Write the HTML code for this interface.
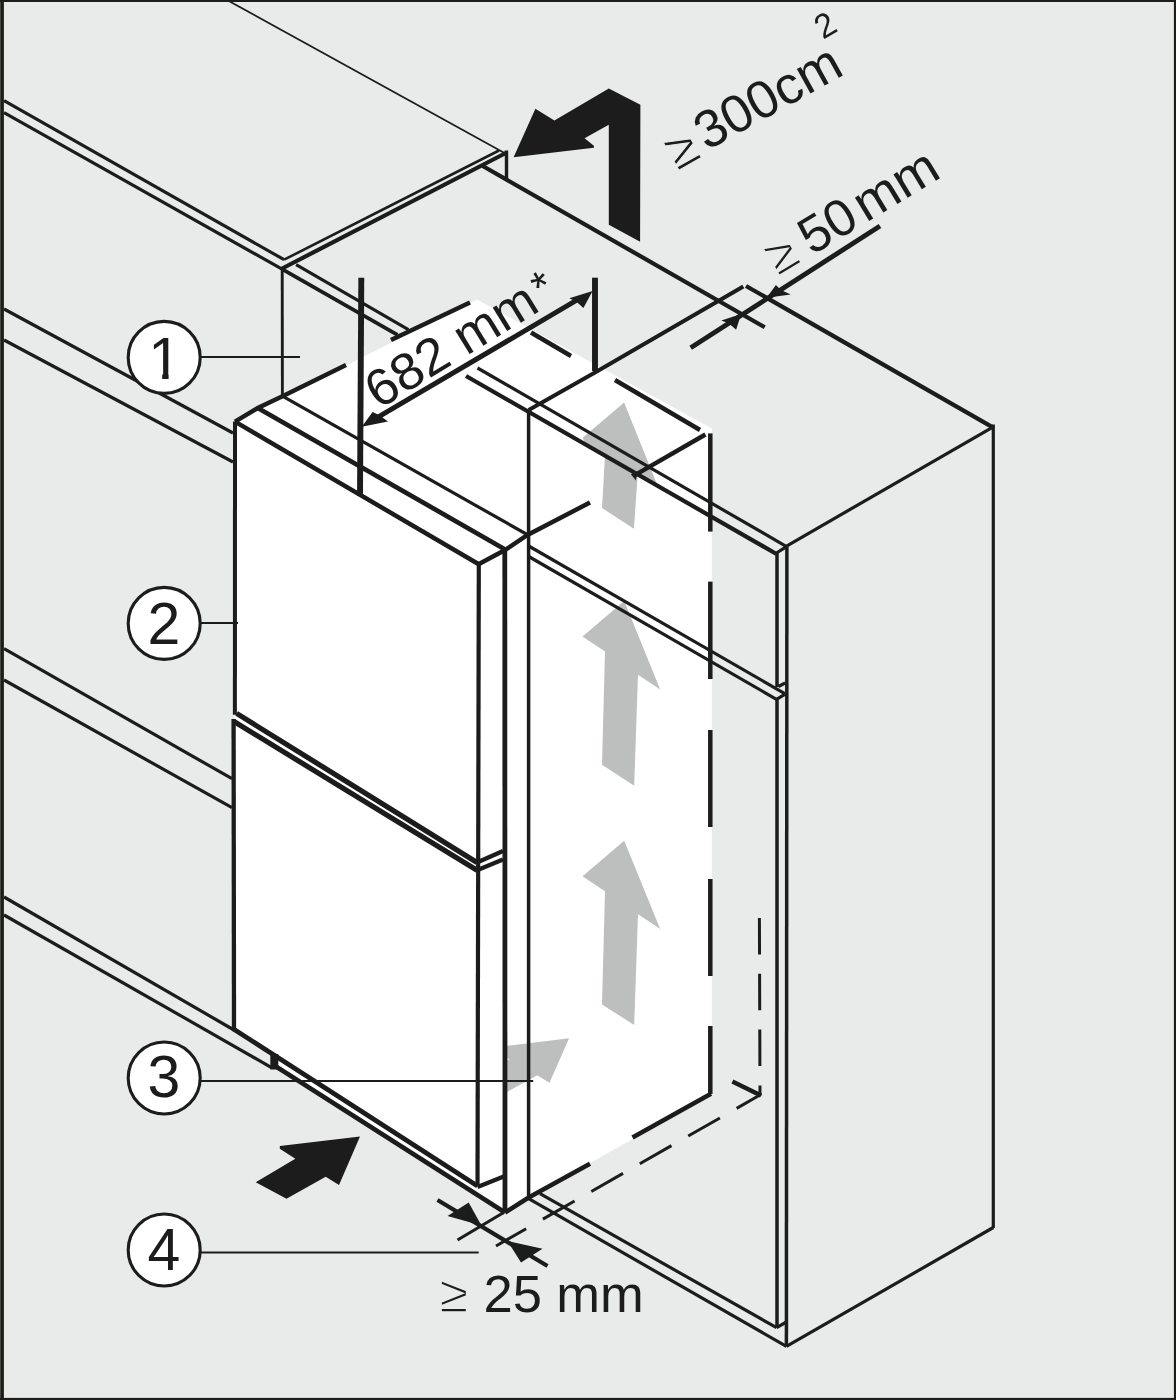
<!DOCTYPE html>
<html lang="en">
<head>
<meta charset="utf-8">
<title>Installation diagram</title>
<style>
html,body{margin:0;padding:0;background:#e9ebea;}
body{width:1176px;height:1400px;overflow:hidden;}
svg{display:block;}
text{font-family:"Liberation Sans",Arial,Helvetica,sans-serif;fill:#1d1d1b;}
.l1{stroke:#1d1d1b;stroke-width:1.8;fill:none;}
.l2{stroke:#1d1d1b;stroke-width:3.2;fill:none;}
.l25{stroke:#1d1d1b;stroke-width:3.8;fill:none;}
.l3{stroke:#1d1d1b;stroke-width:4.5;fill:none;}
.l4{stroke:#1d1d1b;stroke-width:4.8;fill:none;}
.l5{stroke:#1d1d1b;stroke-width:5.9;fill:none;}
.blk{fill:#1d1d1b;stroke:none;}
.gry{fill:#bdbfbe;stroke:none;}
.wht{fill:#ffffff;stroke:none;}
</style>
</head>
<body>
<svg width="1176" height="1400" viewBox="0 0 1176 1400">
<defs><filter id="soft" x="0" y="0" width="1176" height="1400" filterUnits="userSpaceOnUse"><feGaussianBlur stdDeviation="0.55"/></filter></defs>
<g filter="url(#soft)">
<rect x="-5" y="-5" width="1186" height="1410" fill="#e9ebea"/>

<!-- WHITE-REGIONS -->
<g id="white">
<polygon class="wht" points="235,421.6 476.9,299.6 711.8,428.5 711.8,1094.5 528.7,1197.5 505,1212.5 278,1068 278,1057 233.5,1029"/>
</g>

<!-- GRAY-ARROWS -->
<g id="grayarrows">
<polygon class="gry" points="624.1,402.6 582.7,437.7 585.5,444.2 605,455.5 602,507.9 633.9,528.8 637.6,476.5 658.5,488"/>
<polygon class="gry" points="624.2,601.1 582.5,636.5 605,651.5 602,764.7 634.2,785.7 638,674.7 660.2,689.4"/>
<polygon class="gry" points="624.2,840.8 582.5,876.2 605,891.2 602,1004.4 634.2,1025 638,914.3 660.2,929"/>
<polygon class="gry" points="569.1,1038.2 505,1046 505,1057.6 510,1059.2 505,1060.5 505,1093 537.2,1075.2 549.5,1082.8"/>
</g>
<!-- door side + strip cover (white over small gray arrow) -->
<polygon class="wht" points="479,564 505,550 505,1211 477,1186"/>

<!-- LINES -->
<g id="lines">
<!-- upper-left wall units -->
<line class="l1" x1="227" y1="0" x2="504.5" y2="153"/>
<line class="l2" x1="4" y1="100.6" x2="284.1" y2="259.7"/>
<line class="l2" x1="4" y1="112.7" x2="282.1" y2="269.1"/>
<line class="l2" style="stroke-width:2.6" x1="284.1" y1="259.7" x2="499" y2="150.5"/>
<line class="l25" x1="282.1" y1="269.1" x2="397.5" y2="334.8"/>
<line class="l2" x1="296.1" y1="264.7" x2="408.4" y2="329.7"/>
<line class="l3" style="stroke-width:4.2" x1="282.1" y1="268.5" x2="506.8" y2="152.5"/>
<line class="l2" style="stroke-width:3.4" x1="506.5" y1="150.5" x2="506.5" y2="178.4"/>
<line class="l2" style="stroke-width:2.9" x1="282.2" y1="269" x2="282.4" y2="397"/>
<line class="l2" x1="4" y1="309" x2="233" y2="433"/>
<line class="l2" x1="4" y1="340" x2="233" y2="462"/>
<line class="l2" x1="4" y1="648.7" x2="232" y2="778.7"/>
<line class="l2" x1="4" y1="680" x2="232" y2="807.7"/>
<line class="l2" x1="4" y1="897" x2="234" y2="1030"/>
<line class="l2" x1="4" y1="915" x2="272" y2="1067.8"/>
<!-- tall unit top/back edges -->
<line class="l3" style="stroke-width:4.2" x1="482.7" y1="166" x2="764.7" y2="327.2"/>
<polyline class="l3" style="stroke-width:4" points="528.7,410 595,372.5 743.3,286.4"/>
<line class="l3" style="stroke-width:4.2" x1="746" y1="286" x2="993.3" y2="427.6"/>
<line class="l2" x1="993.3" y1="424.4" x2="993.3" y2="1228"/>
<line class="l2" x1="993.3" y1="1227.5" x2="786.4" y2="1346.4"/>
<line class="l2" x1="786.1" y1="546.3" x2="992" y2="427.6"/>
<line class="l25" style="stroke-width:3.5" x1="786.9" y1="546.3" x2="786.4" y2="1346.4"/>
<line class="l25" style="stroke-width:3.5" x1="777" y1="553" x2="777" y2="687"/>
<line class="l25" style="stroke-width:3.5" x1="777" y1="699.3" x2="777" y2="1327.7"/>
<line class="l3" style="stroke-width:4.2" x1="466" y1="376" x2="776.5" y2="554"/>
<line class="l2" x1="477.5" y1="368" x2="786.1" y2="546.3"/>
<line class="l2" x1="776.5" y1="553" x2="786.1" y2="546.8"/>
<line class="l3" x1="634" y1="475.6" x2="705.4" y2="434.5"/>
<polygon class="blk" points="630.8,474.2 637,472.2 636,480.5"/>
<line class="l2" x1="528.7" y1="546" x2="784.8" y2="693.6"/>
<line class="l2" x1="528.7" y1="556.5" x2="776.5" y2="699.3"/>
<line class="l2" x1="776.5" y1="699.3" x2="785.2" y2="694.2"/>
<line class="l2" x1="778.4" y1="686.5" x2="785.2" y2="683"/>
<line class="l2" x1="540" y1="1193.7" x2="776.6" y2="1327.7"/>
<line class="l2" x1="528.7" y1="1198.7" x2="786.4" y2="1346.4"/>
<line class="l2" x1="776.6" y1="1327.7" x2="786.4" y2="1322"/>
<!-- door -->
<line class="l3" style="stroke-width:4" x1="235" y1="421.6" x2="234.9" y2="714.7"/>
<line class="l3" style="stroke-width:4.3" x1="233.6" y1="719" x2="234" y2="1029"/>
<line class="l3" x1="235" y1="421.6" x2="478.8" y2="564.3"/>
<line class="l3" style="stroke-width:4.7" x1="257.8" y1="408" x2="504.7" y2="549.2"/>
<polyline class="l3" points="235,421.6 257.8,408 282.5,396.2 346,365"/>
<line class="l2" x1="282.5" y1="396.2" x2="528" y2="535"/>
<line class="l3" style="stroke-width:4.2" x1="478.8" y1="564" x2="477.5" y2="1186"/>
<line class="l4" x1="504.8" y1="549" x2="505" y2="1212"/>
<line class="l3" style="stroke-width:5.2" x1="236.6" y1="713.4" x2="477" y2="862.5"/>
<line class="l3" style="stroke-width:5.2" x1="234" y1="721.5" x2="477" y2="870.2"/>
<line class="l3" style="stroke-width:4.2" x1="477" y1="862.5" x2="503" y2="851"/>
<line class="l3" style="stroke-width:4.2" x1="477" y1="870.2" x2="503" y2="859.5"/>
<line class="l25" style="stroke-width:3.5" x1="528.6" y1="410" x2="528.6" y2="1197.5"/>
<polyline class="l3" points="479,564 505,550 527.5,535 590,502.5"/>
<line class="l3" style="stroke-width:4.8" x1="233.5" y1="1029" x2="477.5" y2="1186"/>
<line class="l3" style="stroke-width:4.2" x1="477.5" y1="1187" x2="503.7" y2="1176.5"/>
<line class="l3" x1="276" y1="1066.5" x2="505" y2="1212.5"/>
<line class="l4" style="stroke-width:8" x1="274.3" y1="1054" x2="274.3" y2="1069.5"/>
<polyline class="l3" points="505,1212.5 528.7,1197.5 590,1163.7"/>
<line class="l3" x1="632.5" y1="1137.5" x2="711" y2="1093.7"/>
<!-- long-dash outline of niche -->
<line class="l3" x1="391" y1="340" x2="470" y2="302.5"/>
<line class="l3" x1="531" y1="332.5" x2="571" y2="356"/>
<line class="l3" x1="615" y1="380" x2="700" y2="430"/>
<line class="l3" x1="710.3" y1="433.4" x2="710.3" y2="531.6"/>
<line class="l3" x1="710.3" y1="581.6" x2="710.3" y2="679"/>
<line class="l3" x1="710.3" y1="730" x2="710.3" y2="827"/>
<line class="l3" x1="710.3" y1="879" x2="710.3" y2="976"/>
<line class="l3" x1="710.3" y1="1026" x2="710.3" y2="1094"/>
<!-- short-dash line -->
<path class="l2" style="stroke-width:3" stroke-dasharray="36.5 19.3" d="M759.4,918 L760,1095 L496,1246"/>
<line class="l3" x1="732.4" y1="1081.6" x2="761" y2="1095.5"/>
<!-- 682 dimension -->
<line class="l5" x1="361.3" y1="277.7" x2="360" y2="496"/>
<line class="l5" x1="595" y1="277.7" x2="595" y2="371"/>
<line class="l4" style="stroke-width:5" x1="378" y1="417.2" x2="578" y2="299.4"/>
<polygon class="blk" points="592.6,291 569.3,298.3 576.5,301.8 583.4,308"/>
<polygon class="blk" points="361.8,426.7 372.6,412 379.5,415.3 388,421.6"/>
<!-- 50 mm dimension -->
<line class="l4" style="stroke-width:4.9" x1="690.7" y1="347.7" x2="880" y2="226"/>
<polygon class="blk" points="766.7,297.7 775.9,284.9 781,290 790.7,294.6"/>
<polygon class="blk" points="741.2,314 721.3,320.6 729,323.5 736.1,329.8"/>
<!-- 25 mm dimension -->
<line class="l3" style="stroke-width:4.2" x1="437.5" y1="1200" x2="547.5" y2="1266"/>
<polygon class="blk" points="481.4,1225.5 447.5,1216 468.7,1202.5"/>
<polygon class="blk" points="507.5,1241 542.5,1248.7 521,1262.5"/>
<line class="l2" x1="457.5" y1="1240" x2="503.7" y2="1212.5"/>
<!-- big black arrows -->
<polygon class="blk" points="513.6,157.3 535.4,108.7 554.4,120.6 608.8,88.6 640.4,104.7 640.1,241.7 608.8,224.7 608.8,124.7 584.6,138.3 593.9,145.7 593.9,147.8"/>
<polygon class="blk" points="360,1136.4 279.8,1146 279.8,1148.8 295.3,1158.7 255.7,1182.3 286.5,1198.8 325.7,1176.7 339,1185"/>
<!-- callout leaders -->
<line class="l1" x1="199" y1="357" x2="300" y2="357"/>
<line class="l1" x1="199" y1="623" x2="238" y2="623"/>
<line class="l1" x1="199" y1="1081" x2="533.2" y2="1081"/>
<line class="l1" x1="199" y1="1252.5" x2="478.7" y2="1252.5"/>
</g>

<!-- TEXT -->
<g id="labels">
<g class="callouts">
<circle cx="164.2" cy="357.4" r="36" fill="#fff" stroke="#1d1d1b" stroke-width="3.1"/>
<circle cx="164.2" cy="623.4" r="36" fill="#fff" stroke="#1d1d1b" stroke-width="3.1"/>
<circle cx="164.2" cy="1078" r="36" fill="#fff" stroke="#1d1d1b" stroke-width="3.1"/>
<circle cx="164.2" cy="1250" r="36" fill="#fff" stroke="#1d1d1b" stroke-width="3.1"/>
<text x="164.6" y="379" font-size="59" text-anchor="middle">1</text>
<rect x="149" y="373.6" width="13.2" height="7" fill="#fff"/><rect x="168.6" y="373.6" width="11" height="7" fill="#fff"/>
<text x="164" y="643.7" font-size="59" text-anchor="middle">2</text>
<text x="164" y="1097.3" font-size="59" text-anchor="middle">3</text>
<text x="164" y="1270" font-size="59" text-anchor="middle">4</text>
</g>
<text x="439.5" y="1312" font-size="52.5" stroke="#e9ebea" stroke-width="1.5">≥</text>
<text x="483.5" y="1312" font-size="52.5">25</text>
<text x="556.3" y="1312" font-size="52.5">mm</text>
<text transform="translate(378.7,409.7) rotate(-31.5)" font-size="52" textLength="191" lengthAdjust="spacingAndGlyphs">682 mm</text>
<text transform="translate(542.3,303.6) rotate(-30)" font-size="44">*</text>
<text transform="translate(677.4,170.9) rotate(-29.5)" font-size="53" stroke="#e9ebea" stroke-width="1">≥</text>
<text transform="translate(706.8,151) rotate(-29)" font-size="53">300cm</text>
<text transform="translate(823,40) rotate(-31)" font-size="34">2</text>
<g transform="translate(778,276.3) rotate(-31.2)" font-size="52"><text x="0" y="0" stroke="#e9ebea" stroke-width="1.3">≥</text><text x="39.5" y="0">50</text><text x="102.8" y="0" textLength="90" lengthAdjust="spacingAndGlyphs">mm</text></g>
</g>

</g>
<!-- border -->
<rect x="0" y="0" width="3.9" height="1400" class="blk"/>
<rect x="0" y="0" width="0.9" height="1400" fill="#4b4b49"/>
<rect x="0" y="0" width="1176" height="2" class="blk"/>
<rect x="1173.9" y="0" width="2.1" height="1400" class="blk"/>
<rect x="0" y="1397.9" width="1176" height="2.1" class="blk"/>
</svg>
</body>
</html>
